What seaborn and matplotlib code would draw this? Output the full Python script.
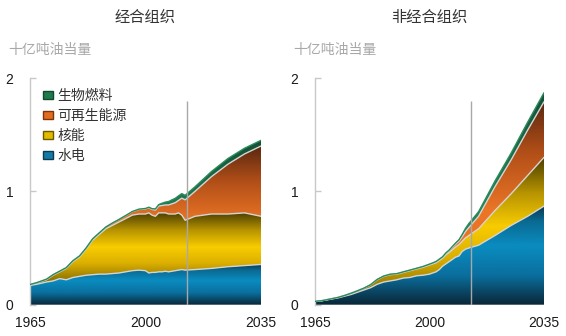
import numpy as np
import pandas as pd
import matplotlib
matplotlib.use("Agg")
import matplotlib.pyplot as plt
import seaborn as sns
from matplotlib.colors import LinearSegmentedColormap
from matplotlib.patches import Patch

# ---- data (billion tonnes oil equivalent) ----
years = [1965, 1967, 1970, 1972, 1974, 1976, 1978, 1980, 1982, 1984, 1986, 1988,
         1990, 1992, 1994, 1996, 1998, 2000, 2001, 2002, 2003, 2004, 2005, 2006,
         2007, 2008, 2009, 2010, 2011, 2012, 2015, 2020, 2025, 2030, 2035]

# OECD layers
oecd_hydro = [0.17, 0.18, 0.20, 0.21, 0.23, 0.22, 0.24, 0.25, 0.26, 0.265, 0.27, 0.27,
              0.275, 0.28, 0.29, 0.30, 0.305, 0.30, 0.28, 0.285, 0.285, 0.29, 0.29, 0.295,
              0.29, 0.295, 0.30, 0.305, 0.31, 0.305, 0.31, 0.32, 0.335, 0.345, 0.355]
oecd_nuclear = [0.005, 0.01, 0.02, 0.05, 0.06, 0.10, 0.14, 0.17, 0.23, 0.305, 0.35, 0.40,
                0.425, 0.45, 0.47, 0.49, 0.495, 0.50, 0.53, 0.505, 0.495, 0.52, 0.52, 0.515,
                0.51, 0.505, 0.50, 0.505, 0.48, 0.44, 0.47, 0.48, 0.465, 0.465, 0.425]
oecd_renew = [0.003, 0.004, 0.005, 0.005, 0.006, 0.007, 0.008, 0.01, 0.01, 0.012, 0.014, 0.016,
              0.02, 0.022, 0.025, 0.03, 0.04, 0.045, 0.045, 0.05, 0.055, 0.06, 0.065, 0.07,
              0.08, 0.09, 0.10, 0.11, 0.15, 0.18, 0.22, 0.33, 0.44, 0.52, 0.62]
oecd_bio = [0.0, 0.0, 0.0, 0.0, 0.0, 0.0, 0.0, 0.0, 0.0, 0.0, 0.0, 0.0,
            0.001, 0.001, 0.002, 0.002, 0.003, 0.004, 0.005, 0.007, 0.01, 0.013, 0.02, 0.025,
            0.03, 0.035, 0.038, 0.04, 0.04, 0.04, 0.04, 0.045, 0.05, 0.05, 0.05]

# Non-OECD layers
non_hydro = [0.03, 0.035, 0.05, 0.06, 0.075, 0.09, 0.11, 0.13, 0.15, 0.18, 0.20, 0.21,
             0.22, 0.235, 0.24, 0.255, 0.26, 0.27, 0.28, 0.29, 0.31, 0.34, 0.36, 0.38,
             0.40, 0.42, 0.43, 0.47, 0.49, 0.50, 0.525, 0.61, 0.70, 0.78, 0.87]
non_nuclear = [0.0, 0.0, 0.002, 0.004, 0.006, 0.01, 0.012, 0.015, 0.025, 0.04, 0.05, 0.055,
               0.05, 0.05, 0.06, 0.06, 0.07, 0.08, 0.08, 0.08, 0.08, 0.07, 0.08, 0.08,
               0.085, 0.09, 0.10, 0.09, 0.10, 0.11, 0.145, 0.22, 0.28, 0.36, 0.43]
non_renew = [0.0, 0.0, 0.0, 0.0, 0.0, 0.001, 0.001, 0.002, 0.002, 0.003, 0.003, 0.004,
             0.004, 0.005, 0.005, 0.006, 0.006, 0.007, 0.008, 0.009, 0.01, 0.01, 0.012, 0.015,
             0.02, 0.025, 0.03, 0.04, 0.055, 0.07, 0.11, 0.21, 0.30, 0.40, 0.49]
non_bio = [0.0, 0.0, 0.0, 0.0, 0.0, 0.0, 0.0, 0.0, 0.0, 0.0, 0.0, 0.0,
           0.0, 0.0, 0.0, 0.0, 0.001, 0.001, 0.001, 0.002, 0.002, 0.003, 0.005, 0.007,
           0.009, 0.01, 0.013, 0.02, 0.028, 0.035, 0.04, 0.05, 0.06, 0.07, 0.08]

series_names = ["水电", "核能", "可再生能源", "生物燃料"]
panel_titles = ["经合组织", "非经合组织"]
unit_label = "十亿吨油当量"
y_ticks = [0, 1, 2]
x_ticks = [1965, 2000, 2035]
outlook_start = 2012.6

# vertical colour ramps for each layer (position within layer, colour), bottom -> top
ramps = {
    "水电": [(0.0, "#0a2636"), (0.3, "#0a6f9e"), (0.6, "#0a8cc0"), (0.85, "#0a6a92"), (1.0, "#0a3850")],
    "核能": [(0.0, "#7a6400"), (0.3, "#dcb000"), (0.52, "#f8cc00"), (0.75, "#b89400"), (1.0, "#4a3e00")],
    "可再生能源": [(0.0, "#e26a1c"), (0.45, "#ec7626"), (0.75, "#b04e18"), (1.0, "#5a2810")],
    "生物燃料": [(0.0, "#2a8c5c"), (0.5, "#228055"), (1.0, "#135036")],
}
legend_face = {"水电": "#1479a3", "核能": "#e2ba00", "可再生能源": "#e46c1e", "生物燃料": "#1f7a4e"}
legend_edge = {"水电": "#0b3b52", "核能": "#6a5a00", "可再生能源": "#7a3410", "生物燃料": "#0f4a30"}

sns.set_theme(style="white")
plt.rcParams["font.family"] = ["Liberation Sans", "Noto Sans CJK SC", "DejaVu Sans"]

fig = plt.figure(figsize=(5.66, 3.36), dpi=100)
ax_l = fig.add_axes([30 / 566, 31.3 / 336, 231 / 566, 226.7 / 336])
ax_r = fig.add_axes([315 / 566, 31.3 / 336, 229 / 566, 226.7 / 336])


def gradient_layer(ax, x, lo, hi, stops, z):
    poly = ax.fill_between(x, lo, hi, facecolor="none", edgecolor="none", zorder=z)
    cmap = LinearSegmentedColormap.from_list("ramp", stops)
    grad = np.linspace(0, 1, 256).reshape(-1, 1)
    ymin, ymax = float(np.min(lo)), float(np.max(hi))
    im = ax.imshow(grad, cmap=cmap, aspect="auto", origin="lower",
                   extent=[x[0], x[-1], ymin, ymax], zorder=z, interpolation="bilinear")
    im.set_clip_path(poly.get_paths()[0], ax.transData)


def draw_panel(ax, layers, title):
    x = np.array(years, dtype=float)
    base = np.zeros_like(x)
    records = []
    for i, (name, vals) in enumerate(zip(series_names, layers)):
        top = base + np.array(vals)
        gradient_layer(ax, x, base, top, ramps[name], 2 + i)
        records.append(pd.DataFrame({"year": x, "value": top, "layer": name}))
        base = top
    df = pd.concat(records, ignore_index=True)
    # light separators between the stacked layers, green edge on top
    sep = df[df["layer"] != "生物燃料"]
    sns.lineplot(data=sep, x="year", y="value", units="layer", estimator=None,
                 color="#d4d4d4", lw=1.0, ax=ax, zorder=8, legend=False)
    sns.lineplot(data=df[df["layer"] == "生物燃料"], x="year", y="value",
                 color="#2a8a5a", lw=1.0, ax=ax, zorder=9, legend=False)
    ax.vlines(outlook_start, 0, 1.8, color="#a8a8a8", lw=1.0, zorder=10)

    ax.set_xlim(years[0], years[-1])
    ax.set_ylim(0, 2)
    ax.set_xticks(x_ticks)
    ax.set_xticklabels([str(t) for t in x_ticks])
    ax.set_yticks(y_ticks)
    ax.set_yticklabels([str(t) for t in y_ticks])
    ax.set_xlabel("")
    ax.set_ylabel("")
    for s in ["top", "right", "bottom"]:
        ax.spines[s].set_visible(False)
    ax.spines["left"].set_color("#c8c8c8")
    ax.spines["left"].set_linewidth(1.0)
    ax.tick_params(axis="y", direction="in", length=4, width=1, color="#c8c8c8",
                   pad=12, labelsize=10, labelcolor="#1a1a1a", left=True)
    ax.tick_params(axis="x", length=0, pad=8, labelsize=10, labelcolor="#1a1a1a")
    ax.set_facecolor("none")

    bb = ax.get_position()
    cx = (bb.x0 + bb.x1) / 2
    fig.text(cx, 1 - 17 / 336, title, ha="center", va="center", fontsize=11,
             color="#333333", family=["Noto Sans CJK SC"])
    fig.text(bb.x0 - 22 / 566, 1 - 50 / 336, unit_label, ha="left", va="center",
             fontsize=10, color="#a8a8a8", family=["Noto Sans CJK SC"])


draw_panel(ax_l, [oecd_hydro, oecd_nuclear, oecd_renew, oecd_bio], panel_titles[0])
draw_panel(ax_r, [non_hydro, non_nuclear, non_renew, non_bio], panel_titles[1])

handles = [Patch(facecolor=legend_face[n], edgecolor=legend_edge[n], lw=1.0)
           for n in reversed(series_names)]
leg = ax_l.legend(handles, list(reversed(series_names)), loc="upper left",
                  bbox_to_anchor=(0.055, 0.95), frameon=False, borderaxespad=0,
                  borderpad=0, handlelength=0.75, handleheight=0.5, handletextpad=0.3,
                  labelspacing=0.42, prop={"family": "Noto Sans CJK SC", "size": 10})
for t in leg.get_texts():
    t.set_color("#333333")

fig.savefig("out.png", dpi=100)
